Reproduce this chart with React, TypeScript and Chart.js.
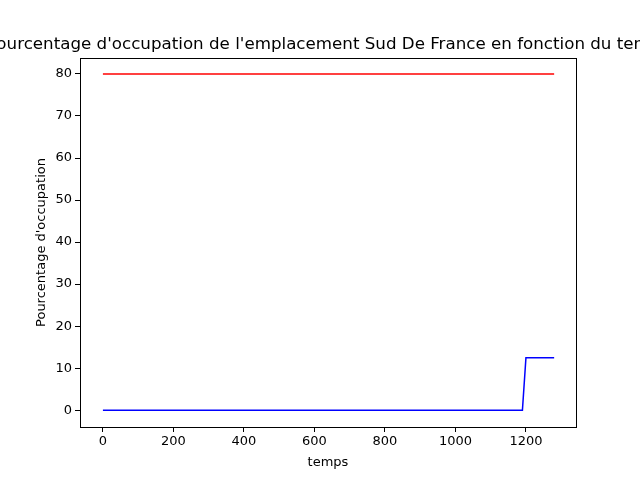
import { useEffect, useRef } from "react";
import { Chart, registerables } from "chart.js";

Chart.register(...registerables);

const titleText = "Pourcentage d'occupation de l'emplacement Sud De France en fonction du temps";
const seuilX = [0, 1280];
const seuilY = [80, 80];
const occupationX = [0, 1190, 1200, 1280];
const occupationY = [0, 0, 12.5, 12.5];
const xTicks = [0, 200, 400, 600, 800, 1000, 1200];
const yTicks = [0, 10, 20, 30, 40, 50, 60, 70, 80];

const frame = {
  id: "frame",
  afterDraw(chart: any) {
    const { ctx, chartArea: a } = chart;
    ctx.save();
    ctx.strokeStyle = "#000";
    ctx.lineWidth = 1;
    ctx.strokeRect(a.left + 0.5, a.top + 0.5, a.right - a.left, a.bottom - a.top);
    ctx.fillStyle = "#000";
    ctx.font = "16.7px 'DejaVu Sans'";
    ctx.textAlign = "center";
    ctx.textBaseline = "alphabetic";
    ctx.fillText(titleText, (a.left + a.right) / 2, 49);
    ctx.restore();
  },
};

export default function App() {
  const ref = useRef<HTMLCanvasElement | null>(null);

  useEffect(() => {
    if (!ref.current) return;
    document.body.style.margin = "0";
    const font = { family: "'DejaVu Sans'", size: 13 };
    const chart = new Chart(ref.current, {
      type: "scatter",
      data: {
        datasets: [
          {
            data: seuilX.map((x, i) => ({ x, y: seuilY[i] })),
            borderColor: "#ff0000",
            showLine: true,
            pointRadius: 0,
            borderWidth: 1.5,
          },
          {
            data: occupationX.map((x, i) => ({ x, y: occupationY[i] })),
            borderColor: "#0000ff",
            showLine: true,
            pointRadius: 0,
            borderWidth: 1.5,
          },
        ],
      },
      plugins: [frame],
      options: {
        animation: false,
        responsive: false,
        layout: { padding: { top: 58, right: 64, left: 30, bottom: 10 } },
        plugins: { legend: { display: false }, title: { display: false }, tooltip: { enabled: false } },
        scales: {
          x: {
            type: "linear",
            min: -65,
            max: 1342,
            afterBuildTicks: (s: any) => { s.ticks = xTicks.map((v) => ({ value: v })); },
            afterFit: (s: any) => { s.height = 43; },
            grid: { drawOnChartArea: false, color: "#000", tickLength: 5 },
            border: { color: "#000" },
            ticks: { color: "#000", font, padding: 2, maxRotation: 0, callback: (v: any) => String(v) },
            title: { display: true, text: "temps", color: "#000", font, padding: { top: 0, bottom: 0 } },
          },
          y: {
            min: -4,
            max: 83.8,
            afterBuildTicks: (s: any) => { s.ticks = yTicks.map((v) => ({ value: v })); },
            afterFit: (s: any) => { s.width = 50; },
            grid: { drawOnChartArea: false, color: "#000", tickLength: 5 },
            border: { color: "#000" },
            ticks: { color: "#000", font, padding: 3 },
            title: { display: true, text: "Pourcentage d'occupation", color: "#000", font, padding: { bottom: 2 } },
          },
        },
      },
    });
    return () => chart.destroy();
  }, []);

  return <canvas ref={ref} width={640} height={480} style={{ display: "block" }} />;
}
